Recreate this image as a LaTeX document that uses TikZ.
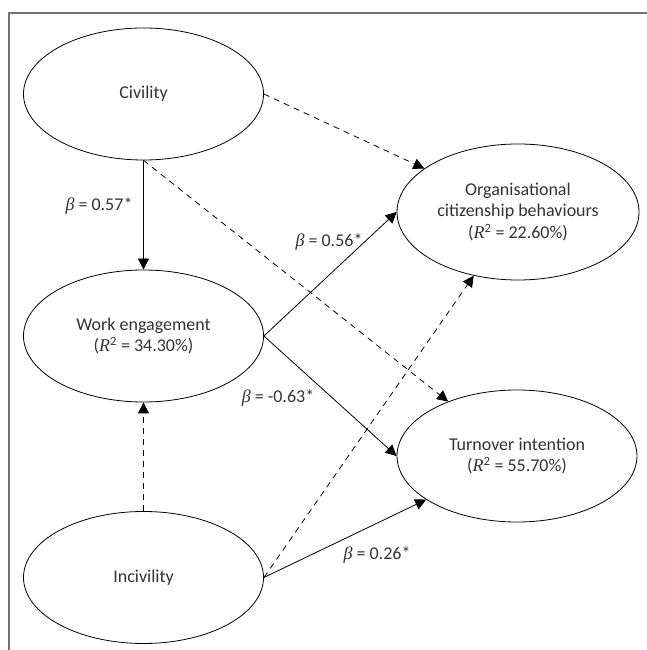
\documentclass[tikz,border=0pt]{standalone}
\usepackage{fontspec}
\setmainfont{Carlito}
\newfontfamily\serifgr{Liberation Serif}
\usetikzlibrary{shapes.geometric,arrows.meta}
\newcommand{\bet}{{\serifgr\itshape β}}
\newcommand{\rsq}{({\serifgr\itshape R}\textsuperscript{2}}

\tikzset{
    construct/.style={draw, ellipse, line width=0.8pt, minimum width=240pt, minimum height=132pt,
        align=center, text=black!80, font=\fontsize{18}{21.5}\selectfont},
    path/.style={line width=0.8pt, -{Triangle[length=11pt,width=11pt]}},
    nopath/.style={path, dash pattern=on 6pt off 5pt},
    coef/.style={text=black!80, font=\fontsize{18}{21.5}\selectfont}
}

\begin{document}
\begin{tikzpicture}[x=1pt,y=1pt]
    \useasboundingbox (0,0) rectangle (647,650);
    \draw [line width=1.2pt, black!55] (9,0) -- (9,637) -- (647,637);

    \node [construct] (civ) at (143.5,556) {Civility};
    \node [construct] (we) at (143.5,314) {Work engagement\\\rsq{} = 34.30\%)};
    \node [construct] (inc) at (143.5,72.5) {Incivility};
    \node [construct, minimum width=242pt, minimum height=136pt] (ocb) at (518,438)
        {Organisational\\citizenship behaviours\\\rsq{} = 22.60\%)};
    \node [construct] (turn) at (517,194) {Turnover intention\\\rsq{} = 55.70\%)};

    \draw [path] (civ.south) -- (we.north);
    \draw [nopath] (civ.east) -- (ocb);
    \draw [nopath] (civ.south) -- (turn);
    \draw [path] (we.east) -- (ocb.west);
    \draw [path] (we.east) -- (turn.west);
    \draw [nopath] (inc.north) -- (we.south);
    \draw [nopath] (inc.east) -- (ocb);
    \draw [path] (inc.east) -- (turn);

    \node [coef, anchor=east] (b1) at (136,444) {\bet{} = 0.57*};
    \node [coef, anchor=east] (b2) at (366,408) {\bet{} = 0.56*};
    \node [coef] (b3) at (278,252) {\bet{} = -0.63*};
    \node [coef] (b4) at (377,95) {\bet{} = 0.26*};
\end{tikzpicture}
\end{document}
